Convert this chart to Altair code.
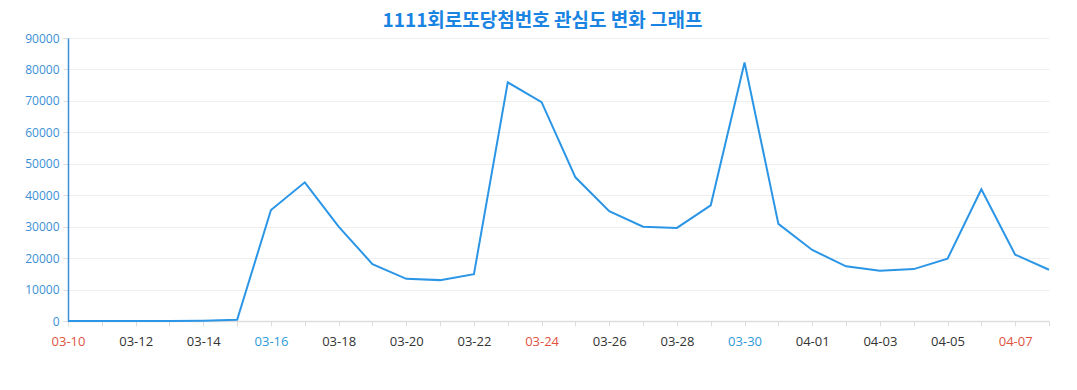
import altair as alt
import pandas as pd

DATES = ["03-10", "03-11", "03-12", "03-13", "03-14", "03-15", "03-16", "03-17",
         "03-18", "03-19", "03-20", "03-21", "03-22", "03-23", "03-24", "03-25",
         "03-26", "03-27", "03-28", "03-29", "03-30", "03-31", "04-01", "04-02",
         "04-03", "04-04", "04-05", "04-06", "04-07", "04-08"]
VALUES = [0, 0, 0, 0, 100, 400, 35300, 44100, 30000, 18100, 13400, 13000, 14900,
          75900, 69600, 45700, 34900, 30000, 29600, 36800, 82200, 30900, 22600,
          17400, 16000, 16500, 19800, 41900, 21100, 16300]
SHOWN_LABELS = ["03-10", "03-12", "03-14", "03-16", "03-18", "03-20", "03-22",
                "03-24", "03-26", "03-28", "03-30", "04-01", "04-03", "04-05", "04-07"]
SUNDAY_LABELS = ["03-10", "03-24", "04-07"]
SATURDAY_LABELS = ["03-16", "03-30"]
TITLE = "1111회로또당첨번호 관심도 변화 그래프"

df = pd.DataFrame({"date": DATES, "value": VALUES})

def js_list(items):
    return "[" + ",".join("'" + s + "'" for s in items) + "]"

label_expr = f"indexof({js_list(SHOWN_LABELS)}, datum.value) >= 0 ? datum.value : ''"

x_axis = alt.Axis(
    title=None,
    labelExpr=label_expr,
    labelAngle=0,
    labelFont="Open Sans",
    labelFontSize=13,
    labelPadding=9,
    labelColor={
        "condition": [
            {"test": f"indexof({js_list(SUNDAY_LABELS)}, datum.value) >= 0", "value": "#e0533f"},
            {"test": f"indexof({js_list(SATURDAY_LABELS)}, datum.value) >= 0", "value": "#2e9ad8"},
        ],
        "value": "#333333",
    },
    domainColor="#dddddd",
    domainWidth=1.5,
    tickColor="#dddddd",
    tickSize=5,
    grid=False,
    labelOverlap=False,
)

y_axis = alt.Axis(
    title=None,
    values=[0, 10000, 20000, 30000, 40000, 50000, 60000, 70000, 80000, 90000],
    format="d",
    labelFont="Open Sans",
    labelFontSize=12,
    labelColor="#3a8fd6",
    labelPadding=4,
    domainColor="#3a8fd6",
    domainWidth=1.5,
    tickColor="#dddddd",
    tickSize=5,
    grid=True,
    gridColor="#eeeeee",
    gridWidth=1,
)

chart = (
    alt.Chart(df)
    .mark_line(color="#2b95e6", strokeWidth=2)
    .encode(
        x=alt.X("date:O", sort=DATES, scale=alt.Scale(type="point", padding=0), axis=x_axis),
        y=alt.Y("value:Q", scale=alt.Scale(domain=[0, 90000], nice=False), axis=y_axis),
    )
    .properties(
        width=981,
        height=283,
        title=alt.Title(
            TITLE,
            font="Noto Sans CJK KR",
            fontSize=19,
            fontWeight="bold",
            color="#1a84e3",
            anchor="middle",
            offset=1,
            dx=-16,
        ),
        autosize=alt.AutoSizeParams(type="none"),
        padding={"left": 60, "top": 30, "right": 20, "bottom": 40},
    )
    .configure_view(stroke=None)
)

chart.save("out.html", embed_options={"renderer": "svg", "actions": False})
